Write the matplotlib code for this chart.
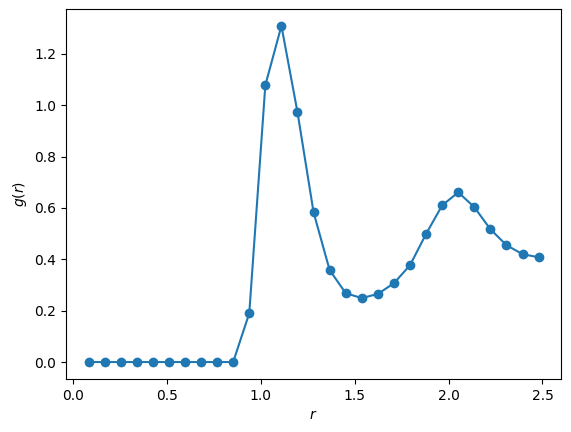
import matplotlib
matplotlib.use("Agg")
import matplotlib.pyplot as plt

# radial distribution function samples
r = [0.0815, 0.1671, 0.2528, 0.3384, 0.4241, 0.5097, 0.5954, 0.6810,
     0.7667, 0.8523, 0.9380, 1.0236, 1.1093, 1.1949, 1.2806, 1.3662,
     1.4519, 1.5375, 1.6232, 1.7088, 1.7945, 1.8801, 1.9658, 2.0514,
     2.1371, 2.2227, 2.3084, 2.3940, 2.4790]
g = [0.0, 0.0, 0.0, 0.0, 0.0, 0.0, 0.0, 0.0, 0.0, 0.0,
     0.19, 1.078, 1.309, 0.973, 0.583, 0.358, 0.268, 0.249, 0.265,
     0.307, 0.377, 0.499, 0.610, 0.661, 0.603, 0.517, 0.455, 0.420, 0.408]


def plot_rdf():
    fig = plt.figure(figsize=(5.71, 4.32), dpi=100)
    ax = fig.add_axes([0.1156, 0.1231, 0.9825 - 0.1156, 0.979 - 0.1231])
    ax.plot(r, g, marker='o')
    ax.set_xlabel('$r$')
    ax.set_ylabel('$g(r)$')
    fig.savefig("out.png", dpi=100)


if __name__ == "__main__":
    plot_rdf()
